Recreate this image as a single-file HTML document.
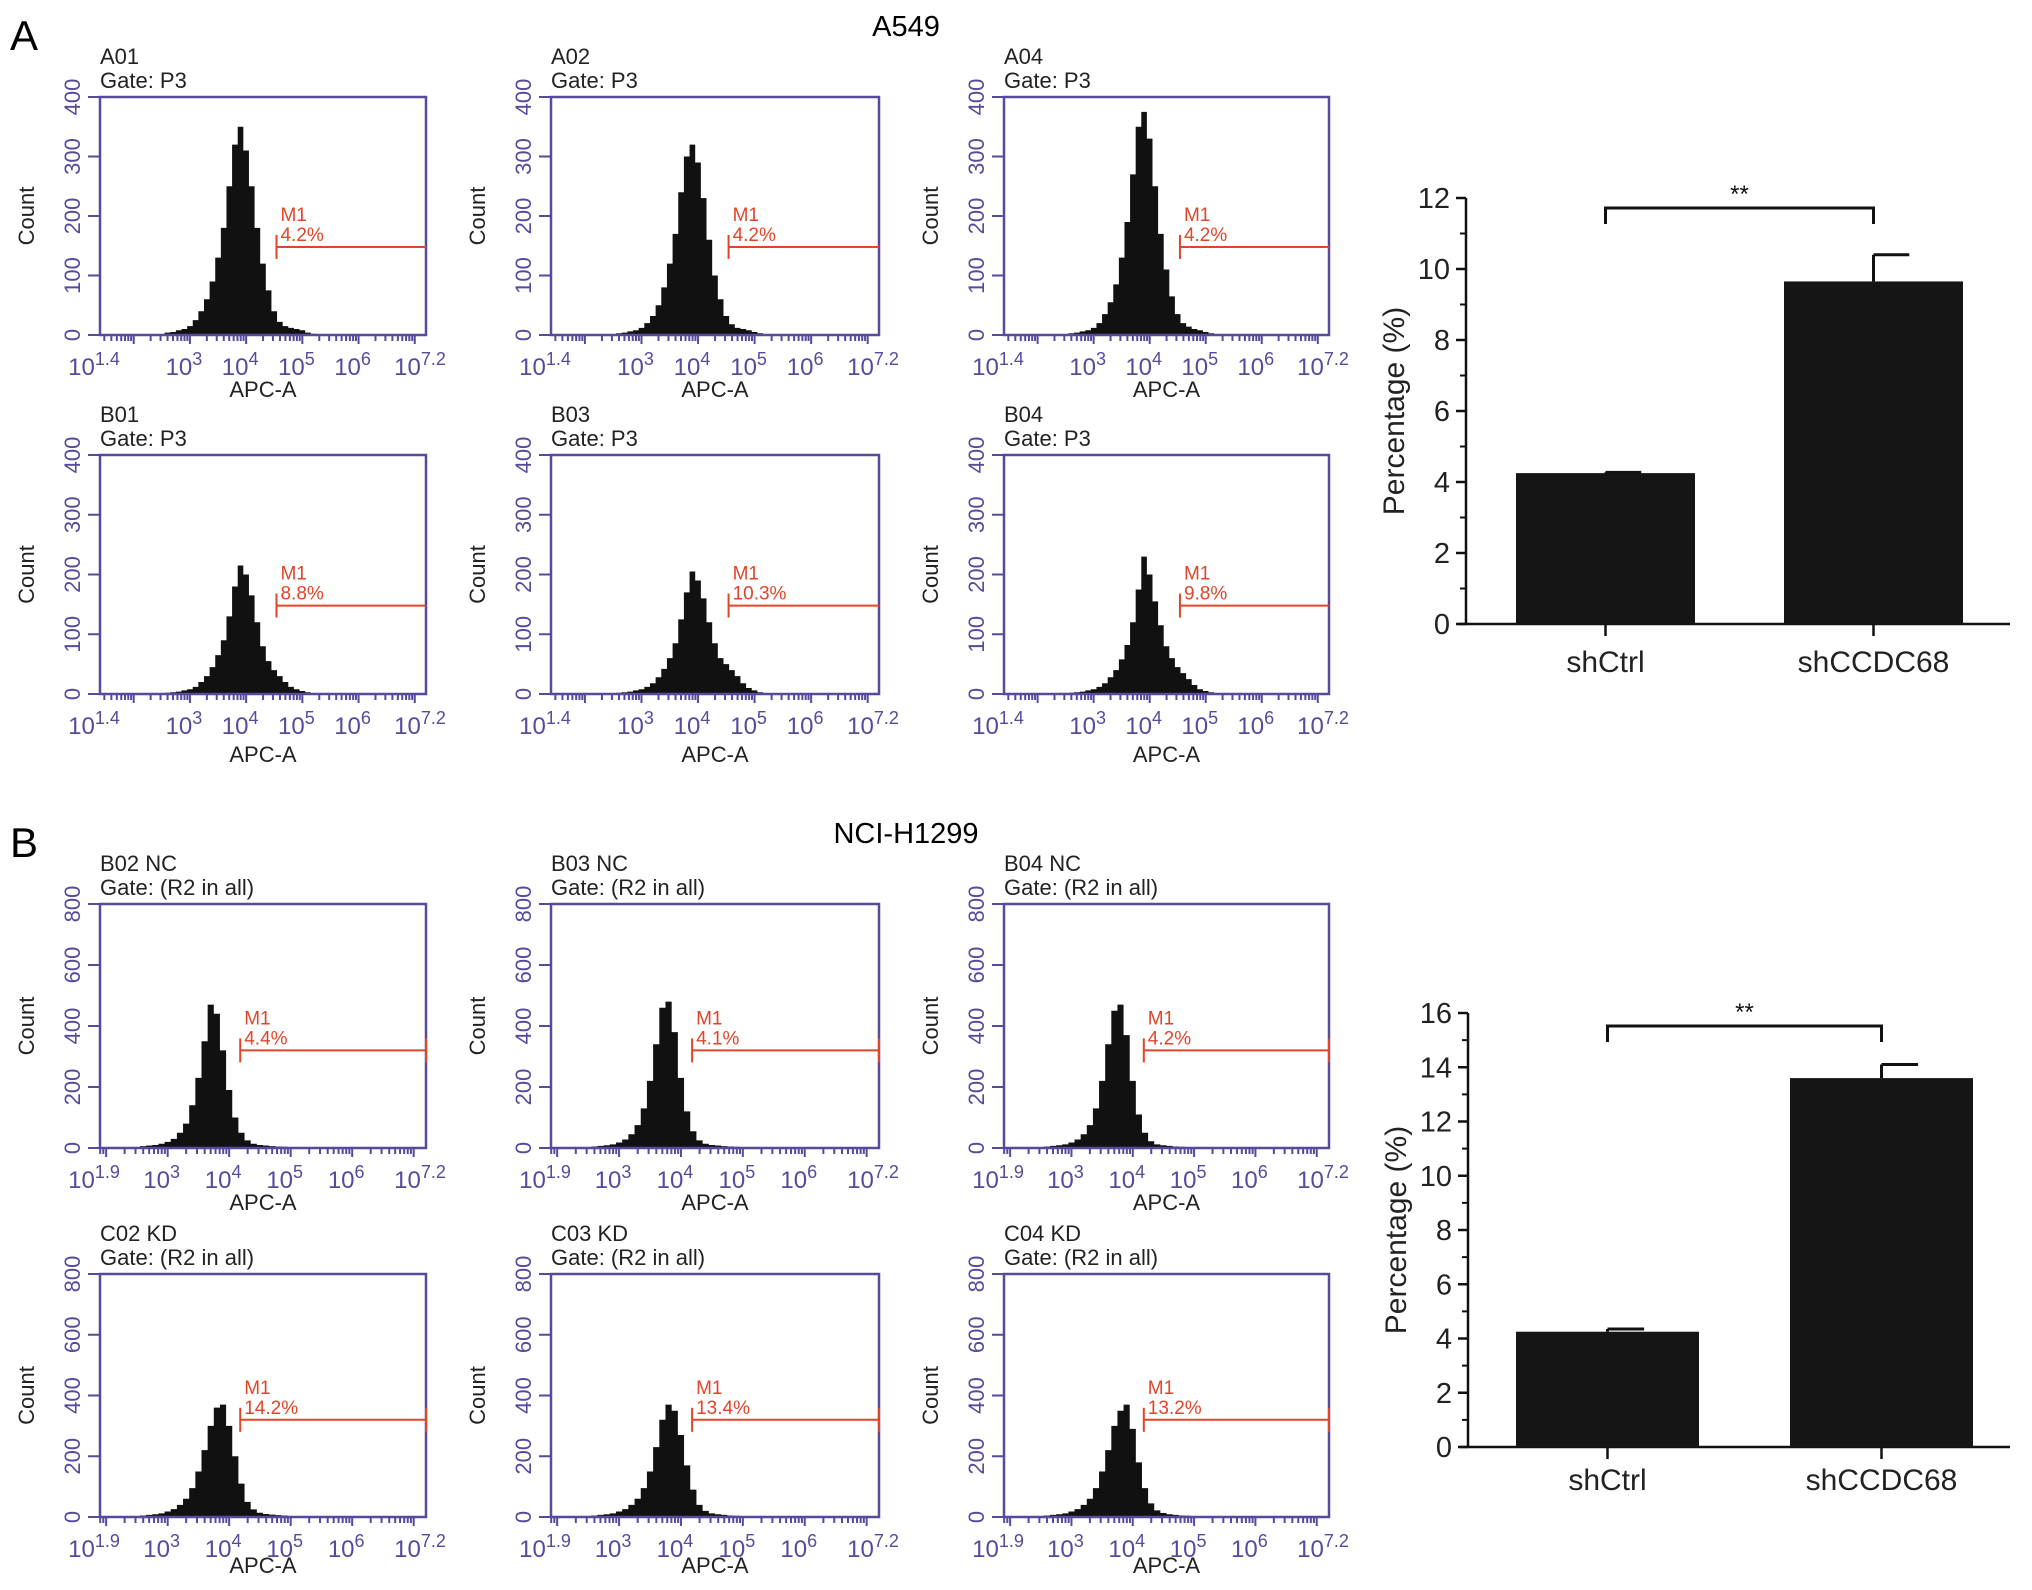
<!DOCTYPE html>
<html><head><meta charset="utf-8"><style>
html,body{margin:0;padding:0;background:#fff}
svg{display:block;font-family:"Liberation Sans",Arial,sans-serif}
</style></head><body>
<svg id="fig" width="2032" height="1590" viewBox="0 0 2032 1590" xmlns="http://www.w3.org/2000/svg">
<rect width="2032" height="1590" fill="#fff"/>
<text x="10" y="50" font-size="42">A</text>
<text x="906" y="36" font-size="29" text-anchor="middle">A549</text>
<text x="10" y="857" font-size="42">B</text>
<text x="906" y="843" font-size="29" text-anchor="middle">NCI-H1299</text>
</svg>
<script>
// log10 bin centres shared by all histograms
const binStart = 2.6, binStep = 0.1;
const panelNames = ["A01","A02","A04","B01","B03","B04","B02 NC","B03 NC","B04 NC","C02 KD","C03 KD","C04 KD"];
const gateNames = ["Gate: P3","Gate: P3","Gate: P3","Gate: P3","Gate: P3","Gate: P3","Gate: (R2 in all)","Gate: (R2 in all)","Gate: (R2 in all)","Gate: (R2 in all)","Gate: (R2 in all)","Gate: (R2 in all)"];
const m1Values = ["4.2%","4.2%","4.2%","8.8%","10.3%","9.8%","4.4%","4.1%","4.2%","14.2%","13.4%","13.2%"];
const h0 = [4,5,8,10,15,25,40,60,90,130,180,250,320,350,310,250,180,120,75,40,22,15,12,10,8,4,2];
const h1 = [3,4,6,8,12,20,32,50,80,120,170,240,300,320,290,230,160,100,60,32,18,12,10,8,5,3,1];
const h2 = [3,4,6,8,12,20,35,55,85,130,190,270,350,375,330,250,170,110,65,35,20,14,10,8,5,3,1];
const h3 = [2,3,4,6,8,12,20,30,45,65,90,130,180,215,200,165,120,80,55,40,30,20,12,8,5,3,1];
const h4 = [2,3,4,6,8,12,18,28,42,60,85,125,170,205,190,160,120,85,60,50,40,30,18,10,6,3,1];
const h5 = [2,3,4,6,8,12,18,28,40,58,82,120,175,230,200,155,115,80,60,45,35,25,15,8,5,3,1];
const h6 = [6,8,10,14,20,30,50,80,140,230,350,470,440,320,190,100,50,25,14,10,8,6,5,4,3,2,1];
const h7 = [5,7,9,12,18,28,45,75,130,220,340,460,480,380,230,120,55,25,14,10,8,6,5,4,3,2,1];
const h8 = [5,7,9,12,18,28,45,75,130,220,340,450,470,370,220,110,50,22,12,9,7,5,4,3,2,2,1];
const h9 = [5,7,9,12,18,26,40,60,95,150,220,300,360,370,300,200,110,50,25,14,10,8,6,5,3,2,1];
const h10 = [5,7,9,12,18,26,40,60,95,150,230,320,370,350,270,170,90,40,20,12,9,7,5,4,3,2,1];
const h11 = [5,7,9,12,18,26,40,60,95,150,220,300,350,370,290,180,95,45,22,13,9,7,5,4,3,2,1];
const histData = [h0,h1,h2,h3,h4,h5,h6,h7,h8,h9,h10,h11];
const yTicksA = [0,100,200,300,400];
const yTicksB = [0,200,400,600,800];
const xTickExpA = ["1.4","3","4","5","6","7.2"];
const xTickExpB = ["1.9","3","4","5","6","7.2"];

// bar charts
const barCats = ["shCtrl","shCCDC68"];
const barValsA = [4.25, 9.65];
const barErrA = [0.02, 0.75];
const barValsB = [4.25, 13.6];
const barErrB = [0.1, 0.5];
const barTicksA = [0,2,4,6,8,10,12];
const barTicksB = [0,2,4,6,8,10,12,14,16];

const NS="http://www.w3.org/2000/svg";
const svg=document.getElementById('fig');
function mk(tag,attrs,parent){const e=document.createElementNS(NS,tag);for(const k in attrs)e.setAttribute(k,attrs[k]);(parent||svg).appendChild(e);return e;}
const PUR="#574a9c", RED="#e0452a";

const colX=[[100,426],[551,879],[1004,1329]];
const rowY=[[97,335],[455,694],[904,1148],[1274,1517]];
const titleOff=[62,68,62,56];

for(let p=0;p<12;p++){
  const r=Math.floor(p/3), c=p%3, isB=r>=2;
  const [x0,x1]=colX[c], [y0,y1]=rowY[r];
  const lmin=isB?1.9:1.4, lmax=7.2, ymax=isB?800:400;
  const sx=l=>x0+(l-lmin)/(lmax-lmin)*(x1-x0);
  const sy=v=>y1-v/ymax*(y1-y0);
  const g=mk('g',{});
  
  
  const t1=mk('text',{x:x0,y:y0-33,'font-size':22,fill:'#222'},g);t1.textContent=panelNames[p];
  
  const t2=mk('text',{x:x0,y:y0-9,'font-size':22,fill:'#222'},g);t2.textContent=gateNames[p];
  
  const d=histData[p];let path='M'+sx(binStart-binStep/2)+' '+y1;
  d.forEach((v,i)=>{const a=sx(binStart+i*binStep-binStep/2),b=sx(binStart+i*binStep+binStep/2);path+=` L${a} ${sy(v)} L${b} ${sy(v)}`;});
  path+=` L${sx(binStart+(d.length-0.5)*binStep)} ${y1} Z`;
  const h=mk('path',{d:path,fill:'#111'},g);
  
  const box=mk('rect',{x:x0,y:y0,width:x1-x0,height:y1-y0,fill:'none',stroke:PUR,'stroke-width':2.5},g);
  
  for(let dec=1;dec<8;dec++)for(let m=1;m<10;m++){const l=dec+Math.log10(m);if(l<lmin||l>lmax)continue;
    mk('line',{x1:sx(l),x2:sx(l),y1:y1,y2:y1+(m===1?9:6),stroke:PUR,'stroke-width':2},g);}
  const exps=isB?xTickExpB:xTickExpA;
  exps.forEach(e=>{const l=parseFloat(e);const t=mk('text',{x:sx(l)-6,y:y1+40,'font-size':24,fill:PUR,'text-anchor':'middle'},g);
    t.textContent='10';const s=mk('tspan',{dy:-10,'font-size':18},t);s.textContent=e;
    });
  const xt=mk('text',{x:(x0+x1)/2,y:y1+titleOff[r],'font-size':22,'text-anchor':'middle',fill:'#222'},g);xt.textContent='APC-A';
  
  (isB?yTicksB:yTicksA).forEach(v=>{const y=sy(v);mk('line',{x1:x0-12,x2:x0,y1:y,y2:y,stroke:PUR,'stroke-width':2},g);
    const t=mk('text',{x:x0-20,y:y,'font-size':22,fill:PUR,'text-anchor':'middle',transform:`rotate(-90 ${x0-20} ${y})`},g);t.textContent=v;
    });
  const yc=(y0+y1)/2;
  const yt=mk('text',{x:34,y:yc,'font-size':22,'text-anchor':'middle',fill:'#222',transform:`rotate(-90 34 ${yc})`},g);yt.textContent='Count';
  if(c>0){yt.setAttribute('x',x0-66);yt.setAttribute('transform',`rotate(-90 ${x0-66} ${yc})`);}
  
  const gl=isB?4.18:4.54, gy=sy(isB?320:148);
  mk('line',{x1:sx(gl),x2:x1,y1:gy,y2:gy,stroke:RED,'stroke-width':2},g);
  mk('line',{x1:sx(gl),x2:sx(gl),y1:gy-12,y2:gy+12,stroke:RED,'stroke-width':2},g);
  if(isB)mk('line',{x1:x1,x2:x1,y1:gy-12,y2:gy+12,stroke:RED,'stroke-width':2},g);
  const m1=mk('text',{x:sx(gl)+4,y:gy-26,'font-size':19,fill:RED},g);m1.textContent='M1';
  
  const m2=mk('text',{x:sx(gl)+4,y:gy-6,'font-size':19,fill:RED},g);m2.textContent=m1Values[p];
  
}

function barChart(cfg){
  const {ax,y0,yTop,ymax,ticks,vals,errs,bars,xEnd,brY,labY,name}=cfg;
  const sy=v=>y0-v/ymax*(y0-yTop);
  const g=mk('g',{});
  
  
  mk('line',{x1:ax,x2:ax,y1:yTop,y2:y0,stroke:'#111','stroke-width':2.5},g);
  mk('line',{x1:ax-8,x2:xEnd,y1:y0,y2:y0,stroke:'#111','stroke-width':2.5},g);
  ticks.forEach((v,i)=>{const y=sy(v);mk('line',{x1:ax-10,x2:ax,y1:y,y2:y,stroke:'#111','stroke-width':2.5},g);
    if(i<ticks.length-1){const ym=sy((v+ticks[i+1])/2);mk('line',{x1:ax-6,x2:ax,y1:ym,y2:ym,stroke:'#111','stroke-width':2},g);}
    const t=mk('text',{x:ax-16,y:y+10,'font-size':29,'text-anchor':'end',fill:'#222'},g);t.textContent=v;
    });
  const yc=(y0+yTop)/2;
  const yt=mk('text',{x:ax-62,y:yc,'font-size':30,'text-anchor':'middle',fill:'#222',transform:`rotate(-90 ${ax-62} ${yc})`},g);yt.textContent='Percentage (%)';
  
  const centers=[];
  vals.forEach((v,i)=>{const [a,b]=bars[i];const cx=(a+b)/2;centers.push(cx);
    const r=mk('rect',{x:a,y:sy(v),width:b-a,height:y0-sy(v),fill:'#151515'},g);
    
    const e=sy(v+errs[i]);
    mk('line',{x1:cx,x2:cx,y1:sy(v),y2:e,stroke:'#111','stroke-width':3},g);
    mk('line',{x1:cx,x2:cx+(b-a)*0.2,y1:e,y2:e,stroke:'#111','stroke-width':3},g);
    mk('line',{x1:cx,x2:cx,y1:y0,y2:y0+12,stroke:'#111','stroke-width':2.5},g);
    const t=mk('text',{x:cx,y:labY,'font-size':30,'text-anchor':'middle',fill:'#222'},g);t.textContent=barCats[i];
    });
  const br=mk('path',{d:`M${centers[0]} ${brY+16} V${brY} H${centers[1]} V${brY+16}`,fill:'none',stroke:'#111','stroke-width':3},g);
  
  const s=mk('text',{x:(centers[0]+centers[1])/2,y:brY-6,'font-size':24,'text-anchor':'middle',fill:'#111'},g);s.textContent='**';
  
}
barChart({name:'bar-chart-a549',ax:1466,y0:624,yTop:198,ymax:12,ticks:barTicksA,vals:barValsA,errs:barErrA,bars:[[1516,1695],[1784,1963]],xEnd:2010,brY:208,labY:672});
barChart({name:'bar-chart-nci-h1299',ax:1468,y0:1447,yTop:1013,ymax:16,ticks:barTicksB,vals:barValsB,errs:barErrB,bars:[[1516,1699],[1790,1973]],xEnd:2010,brY:1026,labY:1490});
</script>
</body></html>
